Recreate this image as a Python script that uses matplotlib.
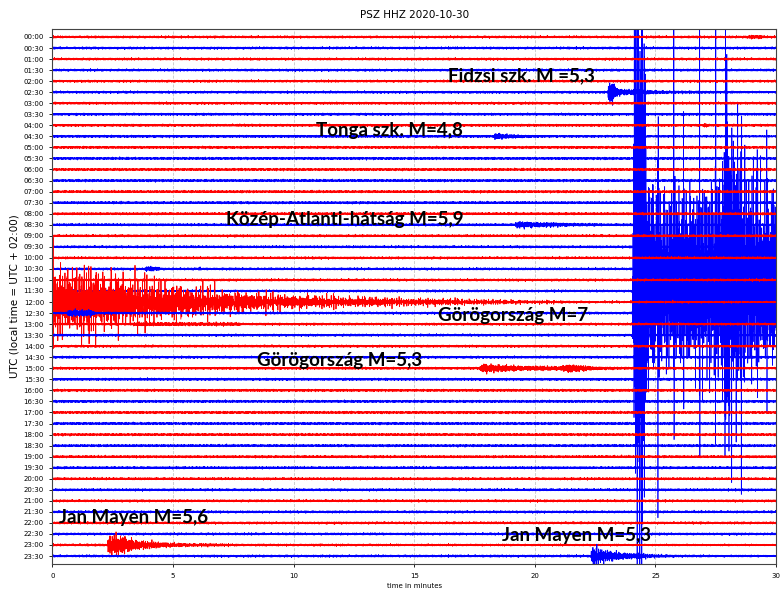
import numpy as np
import matplotlib
matplotlib.use("Agg")
import matplotlib.pyplot as plt

# ---------------- data ----------------
title = "PSZ HHZ 2020-10-30"
trace_labels = [f"{h:02d}:{m:02d}" for h in range(24) for m in (0, 30)]
trace_colors = ["#ff0000", "#0000ff"] * 24
x_ticks = [0, 5, 10, 15, 20, 25, 30]
noise_level = 0.07          # background amplitude, in trace spacings

# event envelopes: (trace index, knot times [min], knot amplitudes [trace spacings])
fidzsi_trace = 5
fidzsi_t = [0, 23.0, 23.08, 23.25, 23.45, 24.3, 25.6, 30]
fidzsi_a = [0.07, 0.07, 1.0, 0.8, 0.3, 0.18, 0.11, 0.07]

tonga_trace = 9
tonga_t = [0, 18.3, 18.38, 18.7, 19.5, 20.5, 30]
tonga_a = [0.07, 0.07, 0.3, 0.2, 0.11, 0.08, 0.07]

blip0400_trace = 8
blip0400_t = [0, 26.9, 27.1, 27.3, 30]
blip0400_a = [0.07, 0.07, 0.18, 0.07, 0.07]

blip0000_trace = 0
blip0000_t = [0, 28.7, 28.9, 29.4, 29.6, 30]
blip0000_a = [0.07, 0.07, 0.16, 0.14, 0.07, 0.07]

kozep_trace = 17
kozep_t = [0, 19.15, 19.3, 20.2, 21.6, 23.0, 30]
kozep_a = [0.07, 0.07, 0.27, 0.2, 0.13, 0.09, 0.07]

blip1030_trace = 21
blip1030_t = [0, 3.8, 3.9, 4.4, 4.5, 6.0, 6.1, 6.2, 30]
blip1030_a = [0.07, 0.07, 0.2, 0.16, 0.07, 0.07, 0.16, 0.07, 0.07]

greece7_p_trace = 23
greece7_p_t = [0, 24.05, 24.1, 24.2, 24.5, 24.65, 25.0, 25.5, 26.5, 27.5,
               27.85, 27.95, 28.1, 28.35, 28.6, 29.3, 30]
greece7_p_a = [0.07, 0.07, 18, 26, 24, 9, 7.5, 7, 7, 7.5,
               10, 22, 10, 12, 8, 7, 7]

greece7_s_trace = 24
greece7_s_t = [0, 0.3, 1.2, 2.4, 3.0, 4.5, 6.0, 8.0, 10.0, 13.0, 16.0, 19.0, 22.0, 30]
greece7_s_a = [3.6, 3.4, 3.1, 2.6, 2.2, 1.7, 1.3, 0.9, 0.6, 0.42, 0.3, 0.18, 0.1, 0.07]

blip1230_trace = 25
blip1230_t = [0, 0.6, 0.7, 1.6, 1.8, 30]
blip1230_a = [0.07, 0.07, 0.28, 0.28, 0.07, 0.07]

blip1300_trace = 26
blip1300_t = [0, 3.2, 3.4, 7.7, 8.0, 30]
blip1300_a = [0.07, 0.07, 0.15, 0.13, 0.07, 0.07]

greece53_trace = 30
greece53_t = [0, 17.7, 17.8, 18.3, 19.5, 21.0, 21.4, 21.7, 22.5, 23.5, 30]
greece53_a = [0.07, 0.07, 0.4, 0.28, 0.2, 0.16, 0.36, 0.27, 0.14, 0.09, 0.07]

janmayen56_trace = 46
janmayen56_t = [0, 2.25, 2.35, 2.9, 3.4, 4.5, 5.6, 8.0, 30]
janmayen56_a = [0.07, 0.07, 0.85, 0.8, 0.45, 0.22, 0.14, 0.09, 0.07]

janmayen53_trace = 47
janmayen53_t = [0, 22.3, 22.4, 22.8, 23.5, 24.9, 26.2, 30]
janmayen53_a = [0.07, 0.07, 0.9, 0.55, 0.32, 0.14, 0.09, 0.07]

# annotations
note_texts = ["Fidzsi szk. M =5,3", "Tonga szk. M=4,8", "Közép-Atlanti-hátság M=5,9",
              "Görögország M=7", "Görögország M=5,3", "Jan Mayen M=5,6", "Jan Mayen M=5,3"]
note_x = [16.4, 17.0, 7.2, 16.0, 8.5, 0.28, 18.65]
note_y = [3.53, 8.51, 16.5, 25.2, 29.3, 43.5, 45.1]
note_ha = ["left", "right", "left", "left", "left", "left", "left"]

# ---------------- drawing ----------------
events = {
    fidzsi_trace: (fidzsi_t, fidzsi_a, 1.0),
    tonga_trace: (tonga_t, tonga_a, 1.0),
    blip0400_trace: (blip0400_t, blip0400_a, 1.0),
    blip0000_trace: (blip0000_t, blip0000_a, 1.0),
    kozep_trace: (kozep_t, kozep_a, 1.0),
    blip1030_trace: (blip1030_t, blip1030_a, 1.0),
    greece7_p_trace: (greece7_p_t, greece7_p_a, 1.0),
    greece7_s_trace: (greece7_s_t, greece7_s_a, 0.6),
    blip1230_trace: (blip1230_t, blip1230_a, 1.0),
    blip1300_trace: (blip1300_t, blip1300_a, 1.0),
    greece53_trace: (greece53_t, greece53_a, 1.0),
    janmayen56_trace: (janmayen56_t, janmayen56_a, 0.7),
    janmayen53_trace: (janmayen53_t, janmayen53_a, 0.8),
}


def fast_part(t, ph, fscale):
    return (np.sin(2 * np.pi * 37.3 * fscale * t + ph)
            + 0.8 * np.sin(2 * np.pi * 53.9 * fscale * t + 2.1 * ph)
            + 0.6 * np.sin(2 * np.pi * 71.1 * fscale * t + 3.3 * ph)
            + 0.5 * np.sin(2 * np.pi * 97.7 * fscale * t + 0.7 * ph)) / 2.0


def texture(t, k, fscale, lo=0.7, hi=0.5, spike=0.0):
    ph = 1.37 * k + 0.5
    fast = fast_part(t, ph, fscale)
    g = np.abs(np.sin(2 * np.pi * 3.13 * t + ph) *
               np.sin(2 * np.pi * 5.37 * t + 0.3 * ph) *
               np.sin(2 * np.pi * 1.71 * t + 2.2 * ph)) ** 0.8
    out = fast * (lo + hi * g)
    if spike:
        m = np.abs(np.sin(2 * np.pi * 2.31 * t + 0.4 * ph) *
                   np.sin(2 * np.pi * 3.77 * t + 1.1 * ph)) ** 10
        out = out + spike * m * fast_part(t, ph + 0.9, fscale * 0.8)
    return out


fig = plt.figure(figsize=(7.8, 5.89), dpi=100)
ax = fig.add_axes([0.0671, 0.0419, 0.9278, 0.9094])

n_traces = len(trace_labels)
for i in range(n_traces):
    n = 40000 if i == greece7_p_trace else 9000
    t = np.linspace(0, 30, n)
    base = noise_level * 1.35 * texture(t, i, 1.0)
    y = base
    z = 2
    lw = 0.6
    if i in events:
        kt, ka, fs = events[i]
        env = np.interp(t, kt, ka)
        if i == greece7_p_trace:
            sig = env * texture(t, i + 100, fs, 0.7, 0.5, spike=2.8)
            sig = np.where(sig < 0, 1.25 * sig, 0.85 * sig)
            z = 1.5
            lw = 0.5
        elif i == greece7_s_trace:
            sig = env * texture(t, i + 100, fs, 0.5, 0.9, spike=1.0)
        else:
            sig = env * 1.1 * texture(t, i + 100, fs)
        y = np.where(env > noise_level + 1e-6, sig, base)
    ax.plot(t, i + y, color=trace_colors[i], lw=lw, zorder=z)

for txt, x, yy, ha in zip(note_texts, note_x, note_y, note_ha):
    ax.text(x, yy, txt, ha=ha, va="center", fontsize=13.5, fontweight="bold",
            family="Lato", color="black", zorder=5)

ax.set_xlim(0, 30)
ax.set_ylim(n_traces - 1 + 0.75, -0.75)
ax.set_xticks(x_ticks)
ax.set_yticks(range(n_traces))
ax.set_yticklabels(trace_labels)
ax.tick_params(labelsize=5, length=2.5, width=0.6)
ax.xaxis.grid(True, color="#c8c8c8", linestyle="--", lw=0.6, zorder=0)
ax.set_axisbelow(True)
ax.set_xlabel("time in minutes", fontsize=5, labelpad=3)
ax.set_ylabel("UTC (local time = UTC + 02:00)", fontsize=7.5, labelpad=3)
ax.set_title(title, fontsize=7.5, pad=8)
for s in ax.spines.values():
    s.set_linewidth(0.8)
    s.set_color("#444444")

fig.savefig("out.png", dpi=100)
